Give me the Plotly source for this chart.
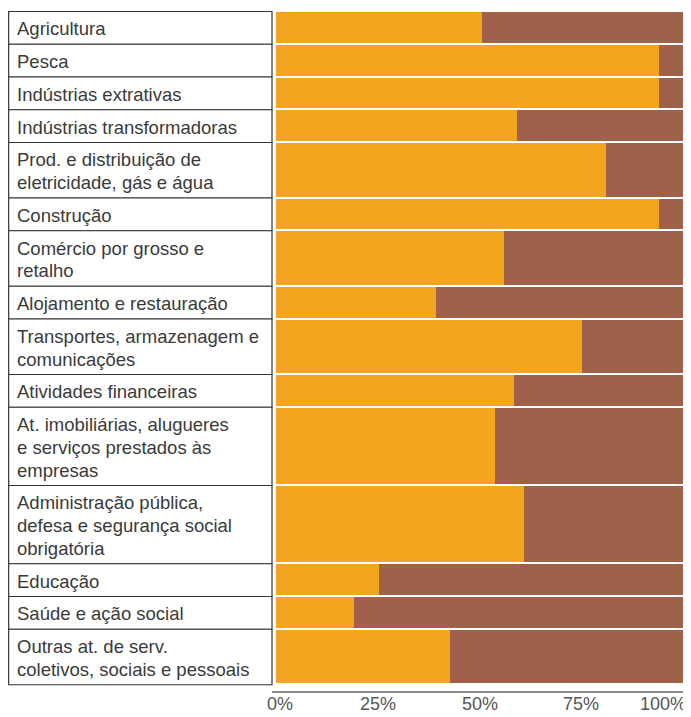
import plotly.graph_objects as go

# ---- data ----
categories = [
    "Agricultura",
    "Pesca",
    "Indústrias extrativas",
    "Indústrias transformadoras",
    "Prod. e distribuição de<br>eletricidade, gás e água",
    "Construção",
    "Comércio por grosso e<br>retalho",
    "Alojamento e restauração",
    "Transportes, armazenagem e<br>comunicações",
    "Atividades financeiras",
    "At. imobiliárias, alugueres<br>e serviços prestados às<br>empresas",
    "Administração pública,<br>defesa e segurança social<br>obrigatória",
    "Educação",
    "Saúde e ação social",
    "Outras at. de serv.<br>coletivos, sociais e pessoais",
]
share_a = [50.6, 94.1, 94.1, 59.2, 81.1, 94.1, 56.0, 39.3, 75.2, 58.5, 53.8, 60.9, 25.3, 19.2, 42.8]
share_b = [49.4, 5.9, 5.9, 40.8, 18.9, 5.9, 44.0, 60.7, 24.8, 41.5, 46.2, 39.1, 74.7, 80.8, 57.2]
tick_vals = [0, 25, 50, 75, 100]
tick_text = ["0%", "25%", "50%", "75%", "100%"]

# ---- layout geometry (page body has an 8px margin, so the figure starts at 8,8) ----
OFF = 8
W, H = 691 - OFF, 717 - OFF
ML, MR, MT, MB = 8 - OFF, 8, 11 - OFF, 717 - 691
plot_w = W - ML - MR
plot_h = H - MT - MB
label_w = 264          # width of label column (px)
gap = 4                # gap between label column and bars (px)
bar_px = plot_w - label_w - gap
dom0 = label_w / plot_w
x_left = -gap / (bar_px / 100.0)

BASE, PER_LINE, SEP = 10.0, 22.75, 2.0
heights = [BASE + PER_LINE * (c.count("<br>") + 1) for c in categories]
starts, acc = [], 0.0
for h in heights:
    starts.append(acc)
    acc += h
centers = [s + h / 2 for s, h in zip(starts, heights)]
widths = [h - SEP for h in heights]

ORANGE = "#F2A51F"
BROWN = "#A0614A"
FONT = "Liberation Sans, Arial, Helvetica, sans-serif"
FS = 18.5

fig = go.Figure()
fig.add_trace(go.Bar(y=centers, x=share_a, orientation="h", width=widths,
                     marker=dict(color=ORANGE, line=dict(width=0)), hoverinfo="skip"))
fig.add_trace(go.Bar(y=centers, x=share_b, orientation="h", width=widths,
                     marker=dict(color=BROWN, line=dict(width=0)), hoverinfo="skip"))

shapes = []
annotations = []
for c, s, h, m in zip(categories, starts, heights, centers):
    shapes.append(dict(type="rect", xref="paper", yref="y", x0=0.001, x1=dom0, y0=s + 0.5, y1=s + h + 0.5,
                       line=dict(color="#333333", width=1.2), fillcolor="white", layer="below"))
    lines = c.split("<br>")
    n = len(lines)
    for i, ln in enumerate(lines):
        annotations.append(dict(xref="paper", yref="y", x=7 / plot_w,
                                y=m + 1.5 + (i - (n - 1) / 2) * PER_LINE,
                                xanchor="left", yanchor="middle", align="left", text=ln,
                                showarrow=False,
                                font=dict(family=FONT, size=FS, color="#3a3a3a")))

for v, t in zip(tick_vals, tick_text):
    annotations.append(dict(xref="x", yref="paper", x=v, y=0, xanchor="right" if v == 100 else "center",
                            xshift=4 if v == 100 else (4 if v == 0 else 0),
                            yanchor="top", yshift=-2, text=t, showarrow=False, borderpad=0,
                            font=dict(family=FONT, size=18, color="#555555")))

fig.update_layout(
    width=W, height=H,
    margin=dict(l=ML, r=MR, t=MT, b=MB, pad=0),
    barmode="stack", bargap=0,
    showlegend=False,
    plot_bgcolor="white", paper_bgcolor="white",
    shapes=shapes, annotations=annotations,
    xaxis=dict(domain=[dom0, 1], range=[x_left, 100], showgrid=False, zeroline=False,
               showticklabels=False, ticks="", showline=True, linecolor="#8c8c8c", linewidth=2,
               fixedrange=True),
    yaxis=dict(range=[plot_h, 0], visible=False, fixedrange=True),
)

fig.write_html("out.html")
